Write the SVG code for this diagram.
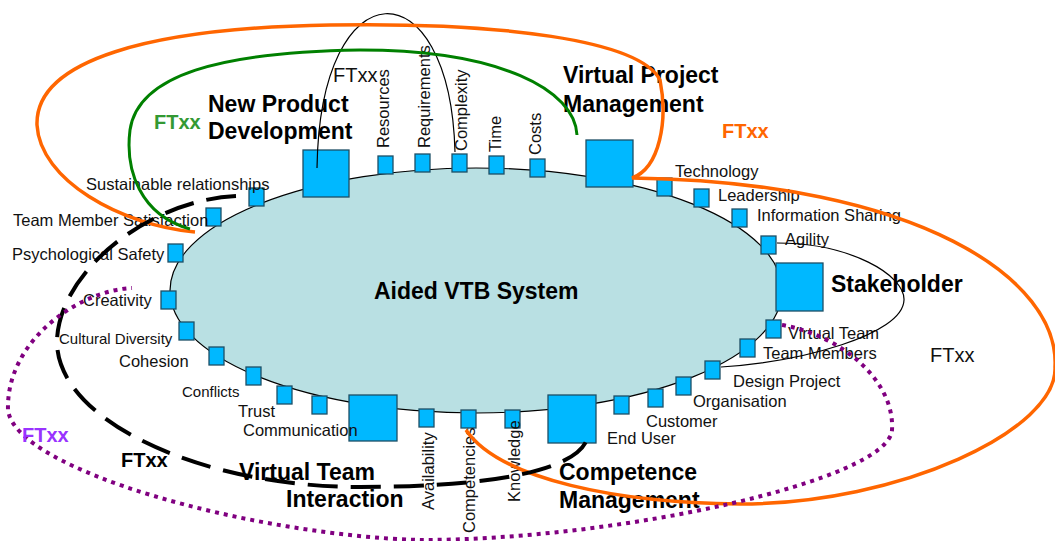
<svg xmlns="http://www.w3.org/2000/svg" width="1055" height="541" viewBox="0 0 1055 541">
<style>
text{font-family:"Liberation Sans",Arial,sans-serif;fill:#111}
.lb{font-size:16.5px}
.sm{font-size:15px}
.big{font-size:23px;font-weight:bold;fill:#000}
.ft{font-size:20px}
.ftb{font-size:20px;font-weight:bold}
.sq{fill:#00b8ff;stroke:#1d4f66;stroke-width:1.3}
.thin{fill:none;stroke:#000;stroke-width:1.2}
.or{fill:none;stroke:#ff6600;stroke-width:3.5}
.gr{fill:none;stroke:#008000;stroke-width:3}
.da{fill:none;stroke:#000;stroke-width:4;stroke-dasharray:30 13}
.pu{fill:none;stroke:#800080;stroke-width:4;stroke-dasharray:4 5}
</style>
<rect width="1055" height="541" fill="#fff"/>
<g id="system">
<ellipse cx="476" cy="290.5" rx="306" ry="122.5" fill="#b9e0e3" stroke="#000" stroke-width="1.2"/>
<text class="big" x="374" y="299">Aided VTB System</text>
</g>
<g id="npd"><rect class="sq" x="303" y="150" width="46" height="47"/><text class="big" x="208" y="112">New Product</text><text class="big" x="208" y="139">Development</text></g>
<g id="vpm"><rect class="sq" x="586" y="140" width="47" height="47"/><text class="big" x="563" y="83">Virtual Project</text><text class="big" x="563" y="112">Management</text></g>
<g id="stakeholder"><rect class="sq" x="776" y="263" width="47" height="48"/><text class="big" x="831" y="292">Stakeholder</text></g>
<g id="vti"><rect class="sq" x="349" y="395" width="48" height="46"/><text class="big" x="239" y="480">Virtual Team</text><text class="big" x="286" y="507">Interaction</text></g>
<g id="cm"><rect class="sq" x="548" y="395" width="48" height="48"/><text class="big" x="559" y="480">Competence</text><text class="big" x="559" y="508">Management</text></g>
<g id="resources"><rect class="sq" x="378" y="156" width="15" height="18"/><text class="lb" transform="translate(389,148) rotate(-90)">Resources</text></g>
<g id="requirements"><rect class="sq" x="415" y="154" width="15" height="18"/><text class="lb" transform="translate(430,148) rotate(-90)">Requirements</text></g>
<g id="complexity"><rect class="sq" x="452" y="154" width="15" height="18"/><text class="lb" transform="translate(467,151) rotate(-90)">Complexity</text></g>
<g id="time"><rect class="sq" x="489" y="156" width="15" height="18"/><text class="lb" transform="translate(501,152) rotate(-90)">Time</text></g>
<g id="costs"><rect class="sq" x="530" y="159" width="15" height="18"/><text class="lb" transform="translate(541,155) rotate(-90)">Costs</text></g>
<g id="technology"><rect class="sq" x="657" y="178" width="15" height="18"/><text class="lb" x="675" y="177">Technology</text></g>
<g id="leadership"><rect class="sq" x="694" y="189" width="15" height="18"/><text class="lb" x="718" y="201">Leadership</text></g>
<g id="infosharing"><rect class="sq" x="732" y="209" width="15" height="18"/><text class="lb" x="757" y="221">Information Sharing</text></g>
<g id="agility"><rect class="sq" x="761" y="236" width="15" height="18"/><text class="lb" x="785" y="245">Agility</text></g>
<g id="virtualteam"><rect class="sq" x="766" y="320" width="15" height="18"/><text class="lb" x="788" y="339">Virtual Team</text></g>
<g id="teammembers"><rect class="sq" x="740" y="339" width="15" height="18"/><text class="lb" x="763" y="359">Team Members</text></g>
<g id="designproject"><rect class="sq" x="705" y="361" width="15" height="18"/><text class="lb" x="733" y="387">Design Project</text></g>
<g id="organisation"><rect class="sq" x="676" y="377" width="15" height="18"/><text class="lb" x="693" y="407">Organisation</text></g>
<g id="customer"><rect class="sq" x="648" y="389" width="15" height="18"/><text class="lb" x="646" y="427">Customer</text></g>
<g id="enduser"><rect class="sq" x="614" y="396" width="15" height="18"/><text class="lb" x="607" y="444">End User</text></g>
<g id="knowledge"><rect class="sq" x="505" y="410" width="15" height="18"/><text class="lb" transform="translate(520,502) rotate(-90)">Knowledge</text></g>
<g id="competencies"><rect class="sq" x="461" y="410" width="15" height="18"/><text class="lb" transform="translate(475,533) rotate(-90)">Competencies</text></g>
<g id="availability"><rect class="sq" x="419" y="409" width="15" height="18"/><text class="lb" transform="translate(434,510) rotate(-90)">Availability</text></g>
<g id="communication"><rect class="sq" x="312" y="396" width="15" height="18"/><text class="lb" x="243" y="436">Communication</text></g>
<g id="trust"><rect class="sq" x="277" y="386" width="15" height="18"/><text class="lb" x="238" y="417">Trust</text></g>
<g id="conflicts"><rect class="sq" x="246" y="367" width="15" height="18"/><text class="sm" x="182" y="397">Conflicts</text></g>
<g id="cohesion"><rect class="sq" x="209" y="347" width="15" height="18"/><text class="lb" x="119" y="367">Cohesion</text></g>
<g id="culturaldiversity"><rect class="sq" x="179" y="322" width="15" height="18"/><text class="sm" x="59" y="344">Cultural Diversity</text></g>
<g id="creativity"><rect class="sq" x="161" y="291" width="15" height="18"/><text class="lb" x="83" y="306">Creativity</text></g>
<g id="psychsafety"><rect class="sq" x="168" y="244" width="15" height="18"/><text class="lb" x="12" y="260">Psychological Safety</text></g>
<g id="tms"><rect class="sq" x="206" y="208" width="15" height="18"/><text class="lb" x="13" y="226">Team Member Satisfaction</text></g>
<g id="sustrel"><rect class="sq" x="249" y="188" width="15" height="18"/><text class="lb" x="86" y="190">Sustainable relationships</text></g>
<g id="connectors">
<path class="thin" d="M317,168 C320,-35 450,-35 455,152"/>
<path class="thin" d="M777,243 C850,243 905,275 904,300 C903,335 800,362 721,367"/>
<path class="or" d="M195,232 C120,225 40,180 37,125 C35,60 150,28 330,25 C500,22 640,40 660,80 C668,120 660,168 632,178 C920,182 1060,280 1055,367 C1058,430 900,504 740,504 C620,503 500,480 466,430"/>
<path class="gr" d="M190,229 C140,215 125,170 130,130 C138,75 220,52 360,50 C500,50 575,90 577,135"/>
<path class="da" d="M236,196 C150,200 60,270 57,340 C55,420 200,487 360,487 C470,487 580,475 588,436"/>
<path class="pu" d="M782,325 C840,335 895,380 892,430 C889,480 620,540 420,540 C250,535 15,470 8,410 C6,340 80,290 132,288"/>
<text class="ft" x="333" y="82">FTxx</text>
<text class="ftb" x="154" y="129" style="fill:#339933">FTxx</text>
<text class="ftb" x="722" y="138" style="fill:#ff6600">FTxx</text>
<text class="ft" x="930" y="362">FTxx</text>
<text class="ftb" x="22" y="442" style="fill:#9933ff">FTxx</text>
<text class="ftb" x="121" y="467" style="fill:#000">FTxx</text>
</g>
</svg>
